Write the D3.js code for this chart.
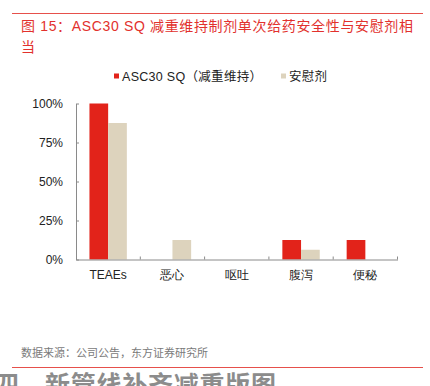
<!DOCTYPE html>
<html><head><meta charset="utf-8">
<script src="https://cdn.jsdelivr.net/npm/d3@7"></script>
<style>
html,body{margin:0;padding:0;background:#fff;overflow:hidden}
svg{display:block;font-family:"Liberation Sans","Noto Sans CJK SC",sans-serif}
</style></head>
<body>
<svg id="c" width="430" height="386"></svg>
<script>
const categories = ["TEAEs","恶心","呕吐","腹泻","便秘"];
const seriesNames = ["ASC30 SQ（减重维持）","安慰剂"];
const asc30 = [100, 0, 0, 12.5, 12.5];
const placebo = [87.5, 12.5, 0, 6.25, 0];
const yTicks = [0, 25, 50, 75, 100];
const colors = ["#e2231a", "#ddd3bd"];

const svg = d3.select("#c");

// top rule + title
svg.append("line").attr("x1",12).attr("x2",423).attr("y1",13.5).attr("y2",13.5)
  .attr("stroke","#e6504b").attr("stroke-width",1);
svg.append("text").attr("x",21).attr("y",31).attr("fill","#e2312d")
  .attr("font-size",14).attr("textLength",392)
  .text("图 15：ASC30 SQ 减重维持制剂单次给药安全性与安慰剂相");
svg.append("text").attr("x",21).attr("y",52).attr("fill","#e2312d")
  .attr("font-size",14).text("当");

// legend
const legX = [114, 281];
const legLen = [140, 38];
seriesNames.forEach((n,i)=>{
  svg.append("rect").attr("x",legX[i]).attr("y",73.5).attr("width",5).attr("height",5).attr("fill",colors[i]);
  svg.append("text").attr("x",legX[i]+8).attr("y",80.5).attr("font-size",12.5).attr("fill","#222")
    .attr("textLength",legLen[i]).text(n);
});

const x0 = d3.scaleBand().domain(categories).range([76, 397.5]).paddingInner(0).paddingOuter(0);
const x1 = d3.scaleBand().domain([0,1]).range([0, x0.bandwidth()]).paddingOuter(0.72).paddingInner(0);
const y = d3.scaleLinear().domain([0,100]).range([259.5, 103.5]);

const g = svg.append("g");
const data = categories.map((c,i)=>({c, v:[asc30[i], placebo[i]]}));
g.selectAll("g.grp").data(data).join("g").attr("class","grp")
  .attr("transform",d=>`translate(${x0(d.c)},0)`)
  .selectAll("rect").data(d=>d.v.map((v,k)=>({v,k}))).join("rect")
  .attr("x",d=>x1(d.k)).attr("width",x1.bandwidth())
  .attr("y",d=>y(d.v)).attr("height",d=>y(0)-y(d.v))
  .attr("fill",d=>colors[d.k]);

// y axis
const yAxis = g.append("g").attr("transform","translate(76,0)")
  .call(d3.axisLeft(y).tickValues(yTicks).tickFormat(d=>d+"%").tickSizeInner(-3).tickSizeOuter(0).tickPadding(13));
yAxis.select(".domain").attr("stroke","#8a8a8a");
yAxis.selectAll(".tick line").attr("stroke","#8a8a8a");
yAxis.selectAll("text").attr("font-size",12).attr("fill","#222").attr("font-family",null);

// x axis
const xAxis = g.append("g").attr("transform","translate(0,259.5)")
  .call(d3.axisBottom(x0).tickSize(0).tickPadding(11));
xAxis.select(".domain").attr("stroke","#8a8a8a");
xAxis.selectAll("text").attr("font-size",12).attr("fill","#222").attr("font-family",null);
const bounds = [...categories.map(c=>x0(c)+x0.bandwidth())];
g.selectAll("line.xt").data(bounds).join("line").attr("class","xt")
  .attr("x1",d=>d).attr("x2",d=>d).attr("y1",259.5).attr("y2",256.5).attr("stroke","#8a8a8a");

// source + bottom rule
svg.append("text").attr("x",21).attr("y",357).attr("font-size",11).attr("fill","#7a7a7a")
  .text("数据来源：公司公告，东方证券研究所");
svg.append("line").attr("x1",12).attr("x2",423).attr("y1",367.5).attr("y2",367.5)
  .attr("stroke","#e6504b").attr("stroke-width",1);
svg.append("text").attr("x",-6).attr("y",394).attr("font-size",25).attr("font-weight","bold").attr("fill","#8c8c8c").text("四");
svg.append("text").attr("x",45).attr("y",394).attr("font-size",25).attr("font-weight","bold").attr("fill","#8c8c8c")
  .attr("textLength",231).text("新管线补齐减重版图");
</script>
</body></html>
